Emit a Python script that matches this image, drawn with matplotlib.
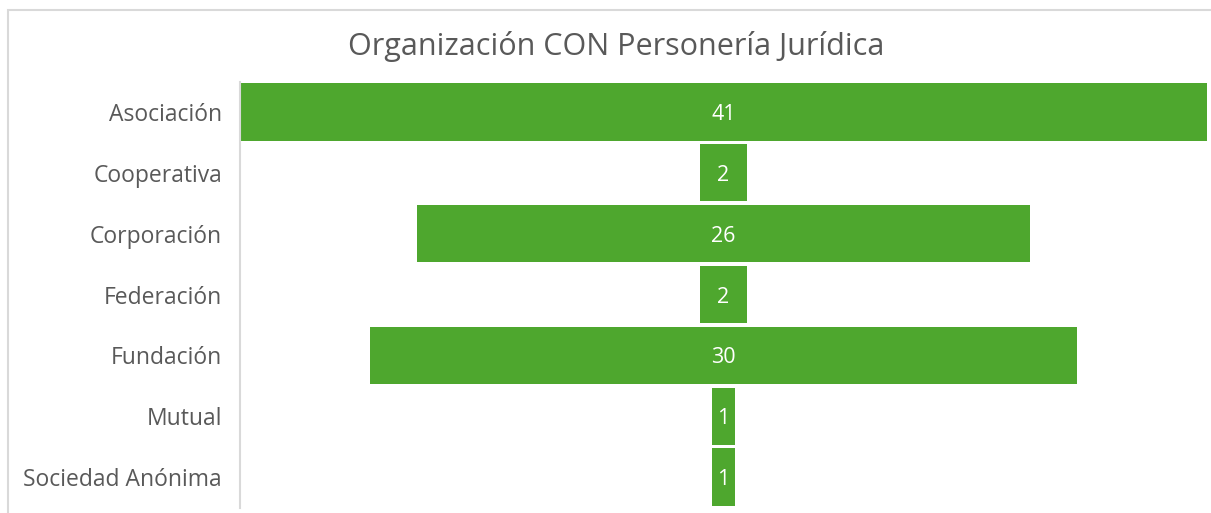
import matplotlib
matplotlib.use("Agg")
import matplotlib.pyplot as plt
from matplotlib.patches import Rectangle

categories = ["Asociación", "Cooperativa", "Corporación", "Federación",
              "Fundación", "Mutual", "Sociedad Anónima"]
values = [41, 2, 26, 2, 30, 1, 1]
title = "Organización CON Personería Jurídica"

W, H = 1211, 513
fig = plt.figure(figsize=(W / 100, H / 100), dpi=100)
plt.rcParams['font.family'] = ['Open Sans', 'DejaVu Sans']

# chart border (top and left visible)
fig.patches.append(Rectangle((8 / W, -0.1), 1.2, (H - 10) / H + 0.1,
                             transform=fig.transFigure, fill=False,
                             edgecolor='#d9d9d9', linewidth=1.5))

ax = fig.add_axes([240 / W, 5.5 / H, (1207 - 240) / W, (507.5 - 81.5) / H])
green = '#4ea72e'
ypos = list(range(len(categories)))
ax.barh(ypos, values, left=[-v / 2 for v in values], height=0.94,
        color=green, edgecolor='none')
for y, v in zip(ypos, values):
    ax.text(0, y, str(v), ha='center', va='center_baseline', color='white',
            fontsize=15.5)

ax.set_xlim(-20.5, 20.5)
ax.set_ylim(len(categories) - 0.5, -0.5)
ax.set_yticks(ypos)
ax.set_yticklabels(categories, fontsize=16.5, color='#595959')
ax.tick_params(axis='y', length=0, pad=13)
ax.set_xticks([])
for s in ['top', 'right', 'bottom']:
    ax.spines[s].set_visible(False)
ax.spines['left'].set_color('#d9d9d9')
ax.spines['left'].set_linewidth(1.5)

fig.text(616 / W, 1 - 46 / H, title, ha='center', va='center',
         fontsize=22, color='#595959')

fig.savefig("out.png", dpi=100)
